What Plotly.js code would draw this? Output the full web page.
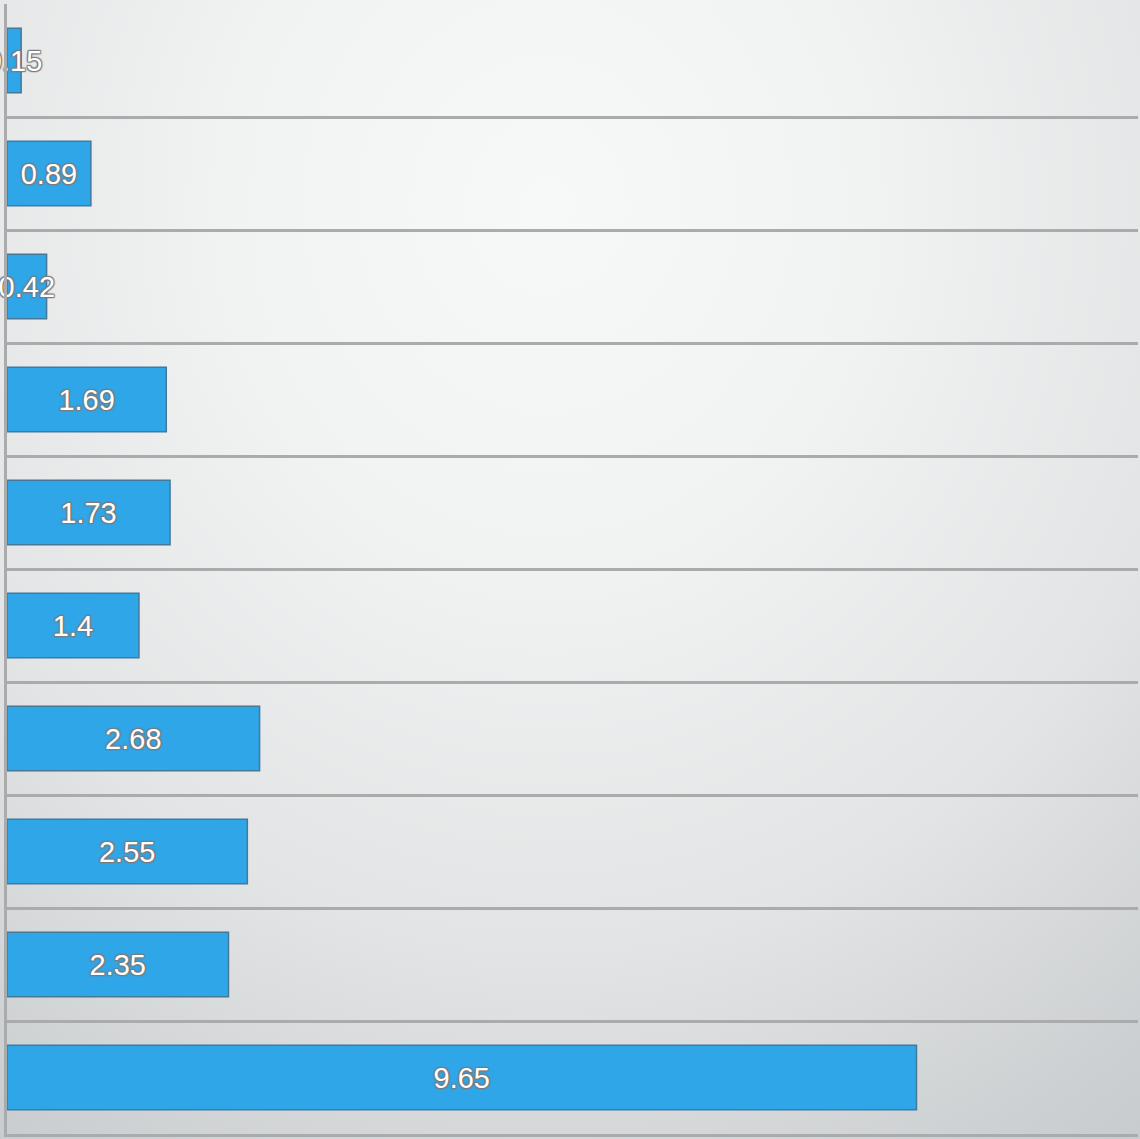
<!DOCTYPE html>
<html>
<head>
<meta charset="utf-8">
<script src="https://cdn.plot.ly/plotly-3.0.1.min.js"></script>
<style>
  html, body { margin: 0; padding: 0; }
  #chart {
    width: 1140px; height: 1139px;
    background: radial-gradient(ellipse 95% 105% at 48% 18%, #f7f8f8 0%, #f1f2f2 30%, #e2e4e5 62%, #cdd0d2 88%, #c6c9cc 100%);
  }
</style>
</head>
<body>
<div id="chart"></div>
<script>
const categories = ["Item 1", "Item 2", "Item 3", "Item 4", "Item 5", "Item 6", "Item 7", "Item 8", "Item 9", "Item 10"];
const values = [0.15, 0.89, 0.42, 1.69, 1.73, 1.4, 2.68, 2.55, 2.35, 9.65];
const labels = values.map(v => String(v));

const trace = {
  type: 'bar',
  orientation: 'h',
  y: categories,
  x: values,
  text: labels,
  textposition: 'inside',
  insidetextanchor: 'middle',
  constraintext: 'none',
  textangle: 0,
  cliponaxis: false,
  width: 0.57,
  marker: { color: '#2ea6e8', line: { color: '#44799a', width: 1.5 } },
  textfont: {
    family: 'Liberation Sans, Arial, sans-serif',
    size: 29,
    color: '#ffffff',
    shadow: '1px 1px 1px #7a7a7a, -1px -1px 1px #7a7a7a, 1px -1px 1px #7a7a7a, -1px 1px 1px #7a7a7a, 0px 0px 2px #7a7a7a'
  },
  hoverinfo: 'x'
};

const layout = {
  width: 1140, height: 1139,
  margin: { l: 7, r: 2, t: 4, b: 5 },
  paper_bgcolor: 'rgba(0,0,0,0)',
  plot_bgcolor: 'rgba(0,0,0,0)',
  showlegend: false,
  xaxis: {
    range: [0, 12],
    showgrid: false,
    zeroline: false,
    showticklabels: false,
    ticks: '',
    showline: true,
    linecolor: '#a9abad',
    linewidth: 3
  },
  yaxis: {
    type: 'category',
    categoryorder: 'array',
    categoryarray: categories,
    autorange: false,
    range: [9.5, -0.5],
    tickson: 'boundaries',
    showgrid: true,
    gridcolor: '#a9abad',
    gridwidth: 3,
    showticklabels: false,
    ticks: '',
    showline: true,
    linecolor: '#a9abad',
    linewidth: 3,
    zeroline: false
  }
};

Plotly.newPlot('chart', [trace], layout, { displayModeBar: false, staticPlot: true });
</script>
</body>
</html>
